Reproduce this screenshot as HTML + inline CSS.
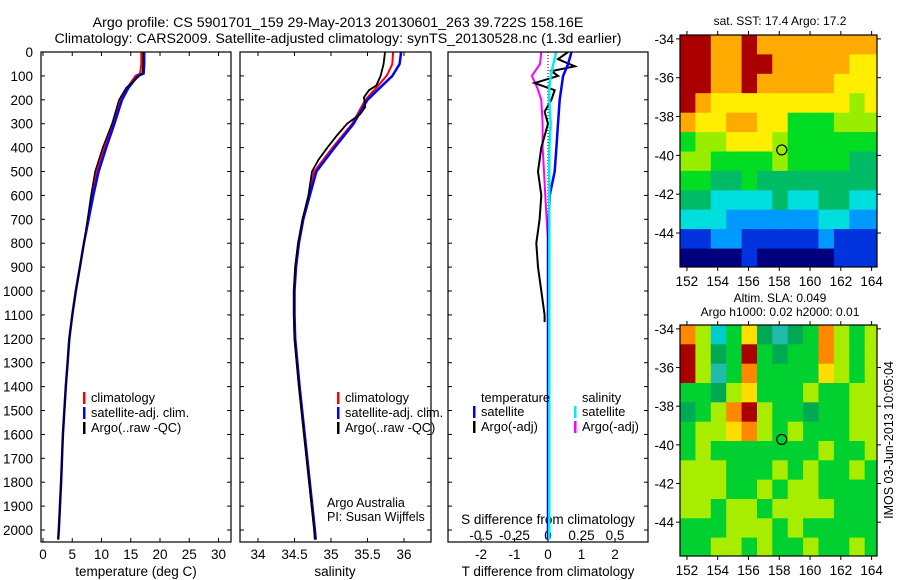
<!DOCTYPE html>
<html><head><meta charset="utf-8">
<style>
body{margin:0;background:#fff;}
svg{display:block;font-family:"Liberation Sans",sans-serif;}
</style></head>
<body>
<svg id="fig" width="900" height="580" viewBox="0 0 900 580">
<text x="338" y="27" font-size="14.2" text-anchor="middle">Argo profile: CS 5901701_159 29-May-2013 20130601_263 39.722S 158.16E</text>
<text x="338" y="43" font-size="14.2" text-anchor="middle">Climatology: CARS2009. Satellite-adjusted climatology: synTS_20130528.nc (1.3d earlier)</text>
</svg>
<script>
// ---- data ----
const depths = [0,50,90,100,150,200,300,400,500,600,700,800,900,1000,1100,1200,1300,1400,1600,1800,2000,2040];
const tempClim = [16.8,16.8,16.6,15.8,14.4,13.3,12.0,10.5,9.2,8.4,7.7,7.0,6.3,5.6,5.0,4.5,4.2,3.9,3.4,3.1,2.7,2.6];
const tempSat  = [17.3,17.3,17.2,16.2,14.6,13.5,12.2,10.8,9.5,8.6,7.8,7.0,6.3,5.6,5.0,4.5,4.2,3.9,3.4,3.1,2.7,2.6];
const tempArgoDepths = [0,50,90,100,150,200,300,400,500,600,700,800,900,1000,1100,1200,1400,1600,1800,2000,2040];
const tempArgo = [17.1,17.1,17.0,16.5,14.2,13.0,11.8,10.2,8.9,8.2,7.6,7.0,6.3,5.6,5.0,4.5,3.9,3.4,3.1,2.7,2.6];
const salClim = [35.85,35.84,35.78,35.76,35.62,35.47,35.29,35.02,34.77,34.70,34.61,34.55,34.51,34.49,34.49,34.50,34.53,34.56,34.63,34.70,34.77,34.78];
const salSat  = [35.96,35.94,35.86,35.84,35.67,35.50,35.31,35.05,34.80,34.71,34.62,34.56,34.52,34.50,34.50,34.51,34.54,34.57,34.64,34.71,34.78,34.79];
const salArgoDepths = [0,50,100,140,160,190,230,260,300,350,400,450,500,600,700,800,900,1000,1100,1200,1400,1600,1800,2000,2040];
const salArgo = [35.74,35.72,35.68,35.62,35.52,35.45,35.47,35.40,35.22,35.08,34.95,34.83,34.74,34.69,34.61,34.55,34.51,34.49,34.49,34.50,34.56,34.63,34.70,34.77,34.78];
const dDepths = [0,30,60,80,100,130,160,200,250,300,400,500,600,700,800,900,1000,1100,1130];
const dTArgo = [0.6,0.3,0.8,0.1,0.3,-0.4,0.2,0.1,-0.1,0.0,-0.2,-0.3,-0.2,-0.25,-0.35,-0.3,-0.2,-0.1,-0.1];
const dSDepths = [0,50,100,150,200,300,400,500,600,800,1000,1200,1400,1600];
const dSArgo = [-0.05,-0.06,-0.12,-0.08,-0.05,-0.04,-0.04,-0.03,-0.02,0.0,0.005,0.01,0.01,0.01];
const dSatDepths = [0,50,100,150,200,300,400,500,600,800,1000,1500,2040];
const dTSat = [0.7,0.6,0.45,0.4,0.35,0.3,0.25,0.2,0.05,0.0,0.0,0.0,0.0];
const dSSat = [0.06,0.04,0.02,0.01,0.01,0.02,0.01,0.01,0.01,0.01,0.01,0.01,0.01];
const depthTicks = [0,100,200,300,400,500,600,700,800,900,1000,1100,1200,1300,1400,1500,1600,1700,1800,1900,2000];
const tempTicks = [0,5,10,15,20,25,30];
const salTicks = [34,34.5,35,35.5,36];
const salTickLabels = ["34","34.5","35","35.5","36"];
const tdTicks = [-2,-1,0,1,2];
const sdTicks = [-0.5,-0.25,0,0.25,0.5];
const sdTickLabels = ["-0.5","-0.25","0","0.25","0.5"];
const lonTicks = [152,154,156,158,160,162,164];
const latTicks = [-34,-36,-38,-40,-42,-44];
// map grids (0 = lowest ... 9 = highest), rows north->south, 1 deg cells from 151.6E
const sstGrid = [
"9988988888888","9988998888877","9988988888777","9877777777767",
"8778877555666","5667776555555","6655556555544","5544544444444",
"4433334334433","3332222223322","1122111112111","0000100000111"];
const slaGrid = [
"8625743458656","9645954558656","9635855557656","5546755565566",
"4568965545566","5667865655566","5655555556556","6665556565565",
"6665565665555","6656656666555","5556665655555","5566565565565"];
const jet = ["#00007f","#0033dd","#0099ff","#00dddd","#00bb66","#00dd22","#99ee00","#ffee00","#ffaa00","#aa0000"];
const slaCol = ["#0033dd","#0099ff","#00cccc","#22bbaa","#00aa55","#00d030","#a8ec00","#ffdd00","#ff8800","#aa0000"];

// ---- helpers ----
const NS="http://www.w3.org/2000/svg";
const svg=document.getElementById('fig');
const FS=13.5;
function mk(tag,attrs,parent){const e=document.createElementNS(NS,tag);for(const k in attrs)e.setAttribute(k,attrs[k]);(parent||svg).appendChild(e);return e;}
const yD = d => 52 + d*0.239;
const xT = t => 43 + t*5.85;
const xS = s => 258 + (s-34)*73;
const xTD = t => 548 + t*33.5;
const xSD = s => 548 + s*134;

function frame(x,y,w,h,name){const r=mk('rect',{x:x,y:y,width:w,height:h,fill:'none',stroke:'#000','stroke-width':1.2});}
function line(xs,ys,fx,color,w,name){
  let p='';for(let i=0;i<xs.length;i++){p+=(i?'L':'M')+fx(xs[i]).toFixed(1)+','+yD(ys[i]).toFixed(1);}
  const e=mk('path',{d:p,fill:'none',stroke:color,'stroke-width':w});
  
  
}
function txt(x,y,s,size,anchor,name,extra){const e=mk('text',Object.assign({x:x,y:y,'font-size':size,'text-anchor':anchor||'start'},extra||{}));e.textContent=s;return e;}

const P=[[41,52,190,490],[240,52,191,490],[448,52,200,490]];
depthTicks.forEach(d=>{
  const y=yD(d);
  txt(33,y+5,String(d),FS,'end','depth-tick-label');
  P.forEach(p=>{mk('line',{x1:p[0],y1:y,x2:p[0]+4,y2:y,stroke:'#000'});mk('line',{x1:p[0]+p[2],y1:y,x2:p[0]+p[2]-4,y2:y,stroke:'#000'});});
});
tempTicks.forEach(t=>{const x=xT(t);mk('line',{x1:x,y1:52,x2:x,y2:56,stroke:'#000'});mk('line',{x1:x,y1:542,x2:x,y2:538,stroke:'#000'});txt(x,559,String(t),FS,'middle','temperature-tick-label');});
salTicks.forEach((s,i)=>{const x=xS(s);mk('line',{x1:x,y1:52,x2:x,y2:56,stroke:'#000'});mk('line',{x1:x,y1:542,x2:x,y2:538,stroke:'#000'});txt(x,559,salTickLabels[i],FS,'middle','salinity-tick-label');});
tdTicks.forEach(t=>{const x=xTD(t);mk('line',{x1:x,y1:542,x2:x,y2:538,stroke:'#000'});txt(x,559,String(t),FS,'middle','t-diff-tick-label');});
sdTicks.forEach((s,i)=>{const x=xSD(s);txt(x,540,sdTickLabels[i],FS,'middle','s-diff-tick-label');});
txt(136,576,'temperature (deg C)',FS,'middle','temperature-axis-title');
txt(335,576,'salinity',FS,'middle','salinity-axis-title');
txt(548,576,'T difference from climatology',FS,'middle','t-diff-axis-title');
txt(548,524,'S difference from climatology',FS,'middle','s-diff-axis-title');

line(tempClim,depths,xT,'#ff0000',2,'temp-climatology-line');
line(tempSat,depths,xT,'#0000ff',2.5,'temp-satellite-line');
line(tempArgo,tempArgoDepths,xT,'#000',1.5,'temp-argo-line');
line(salClim,depths,xS,'#ff0000',2,'sal-climatology-line');
line(salSat,depths,xS,'#0000ff',2.5,'sal-satellite-line');
line(salArgo,salArgoDepths,xS,'#000',1.8,'sal-argo-line');
mk('line',{x1:548,y1:52,x2:548,y2:542,stroke:'#000','stroke-dasharray':'1,2'});
line(dSArgo,dSDepths,xSD,'#ff00ff',2,'s-diff-argo-line');
line(dTArgo,dDepths,xTD,'#000',2,'t-diff-argo-line');
line(dTSat,dSatDepths,xTD,'#0000ff',2.5,'t-diff-satellite-line');
line(dSSat,dSatDepths,xSD,'#00eeee',2.5,'s-diff-satellite-line');

function leg(x,y,color,label,name){mk('rect',{x:x,y:y-10,width:2.5,height:12,fill:color});txt(x+8,y,label,12.8,'start',name);}
[['climatology','#ff0000'],['satellite-adj. clim.','#0000ff'],['Argo(..raw -QC)','#000']].forEach((l,i)=>leg(83,402+i*15,l[1],l[0],'temp-legend-entry'));
[['climatology','#ff0000'],['satellite-adj. clim.','#0000ff'],['Argo(..raw -QC)','#000']].forEach((l,i)=>leg(337,402+i*15,l[1],l[0],'sal-legend-entry'));
txt(481,402,'temperature',12.8,'start','diff-legend-temperature-heading');
txt(582,402,'salinity',12.8,'start','diff-legend-salinity-heading');
leg(473,416,'#0000ff','satellite','diff-legend-entry');
leg(473,431,'#000','Argo(-adj)','diff-legend-entry');
leg(574,416,'#00eeee','satellite','diff-legend-entry');
leg(574,431,'#ff00ff','Argo(-adj)','diff-legend-entry');
txt(327,507,'Argo Australia',12.5,'start','credit-text');
txt(327,521,'PI: Susan Wijffels',12.5,'start','credit-text');

P.forEach(p=>frame(p[0],p[1],p[2],p[3],'profile-panel-frame'));

function map(grid,cols,top,bottom,name){
  const x0=680,x1=877,lonMin=151.55,lonMax=164.35,latMax=-33.8,latMin=-45.75;
  const xL=l=>x0+(l-lonMin)/(lonMax-lonMin)*(x1-x0);
  const yL=l=>top+(latMax-l)/(latMax-latMin)*(bottom-top);
  grid.forEach((row,r)=>{for(let c=0;c<row.length;c++){
    const la=latMax-r, lo=lonMin+c;
    const rx=xL(lo), ry=yL(la), rw=xL(Math.min(lo+1,lonMax))-rx+0.5, rh=yL(Math.max(la-1,latMin))-ry+0.5;
    const e=mk('rect',{x:rx.toFixed(1),y:ry.toFixed(1),width:rw.toFixed(1),height:rh.toFixed(1),fill:cols[+row[c]]});
    
    
  }});
  frame(x0,top,x1-x0,bottom-top,name+'-frame');
  lonTicks.forEach(l=>{const x=xL(l);mk('line',{x1:x,y1:top,x2:x,y2:top-4,stroke:'#000'});mk('line',{x1:x,y1:bottom,x2:x,y2:bottom+4,stroke:'#000'});txt(x,bottom+19,String(l),FS,'middle',name+'-lon-tick');});
  latTicks.forEach(l=>{const y=yL(l);mk('line',{x1:x0,y1:y,x2:x0-4,y2:y,stroke:'#000'});mk('line',{x1:x1,y1:y,x2:x1+4,y2:y,stroke:'#000'});txt(x0-6,y+5,String(l),FS,'end',name+'-lat-tick');});
  const c=mk('circle',{cx:xL(158.16),cy:yL(-39.72),r:5,fill:'none',stroke:'#000','stroke-width':1.2});
  
  
}
map(sstGrid,jet,35,267,'sst-map');
map(slaGrid,slaCol,325,556,'sla-map');
txt(780,25,'sat. SST: 17.4 Argo: 17.2',12,'middle','sst-map-title');
txt(780,302,'Altim. SLA: 0.049',12,'middle','sla-map-title');
txt(780,316,'Argo h1000: 0.02 h2000: 0.01',12,'middle','sla-map-subtitle');
txt(0,0,'IMOS 03-Jun-2013 10:05:04',12.5,'middle','timestamp-text',{transform:'translate(893,440) rotate(-90)'});
</script>
</body></html>
